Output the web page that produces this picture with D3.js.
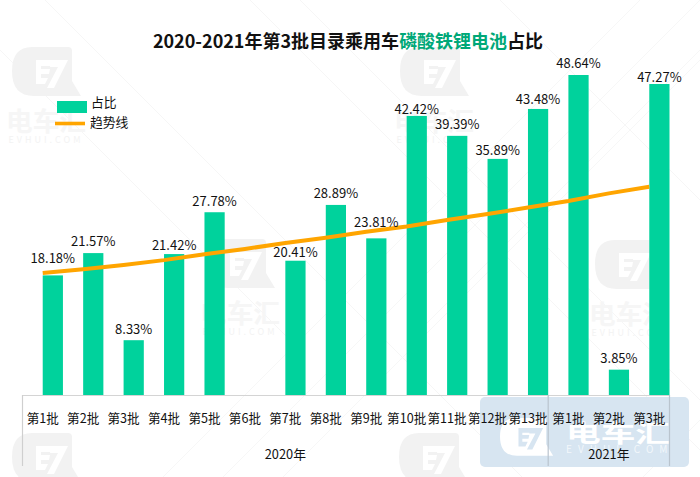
<!DOCTYPE html>
<html><head><meta charset="utf-8">
<script src="https://cdn.jsdelivr.net/npm/d3@7"></script>
<style>html,body{margin:0;padding:0;background:#fff}svg{display:block}text{font-family:"Noto Sans CJK SC","Noto Sans",sans-serif}</style>
</head><body><svg id="c" width="700" height="477"></svg>
<script>
const categories=["第1批","第2批","第3批","第4批","第5批","第6批","第7批","第8批","第9批","第10批","第11批","第12批","第13批","第1批","第2批","第3批"];
const shareValues=[18.18,21.57,8.33,21.42,27.78,null,20.41,28.89,23.81,42.42,39.39,35.89,43.48,48.64,3.85,47.27];
const trendValues=[18.54,19.1,19.76,20.5,21.4,22.2,23.1,23.9,24.8,25.6,26.6,27.5,28.5,29.5,30.65,31.65];
const yearGroups=[{name:"2020年",from:0,to:13},{name:"2021年",from:13,to:16}];
const labelGaps=[12,7,6,4,6,0,4,7,11,2,7,3.5,5,7,7,2.5];

const W=700,H=477,GREEN="#00D29C",ORANGE="#FFA500",AXIS="#d4d4d4";
const svg=d3.select("#c");
const idx=d3.range(categories.length);
const x=d3.scaleBand().domain(idx).range([22.5,669.5]).padding(0);
const sub=d3.scaleBand().domain(["_","占比"]).range([0,x.step()]);
const y=d3.scaleLinear().domain([0,48.64]).range([395,75]);
const cx=i=>x(i)+x.bandwidth()/2;

// watermark layer
const wm=svg.append("g");
[[45,160,600],[300,-80,720],[500,-200,900],[-50,330,420],[250,500,620]].forEach(([a,b,c])=>{
  wm.append("line").attr("x1",a).attr("y1",0).attr("x2",a+c*0.8).attr("y2",c*0.8).attr("stroke","#f6f6f6");
  wm.append("line").attr("x1",b+c).attr("y1",0).attr("x2",b+c-c*0.8).attr("y2",c*0.8).attr("stroke","#f7f7f7");
});
function logo(g,ox,oy,fill,cut,k){
  const n=g.append("g").attr("transform",`translate(${ox},${oy}) scale(${k})`);
  n.append("path").attr("d","M20,0H56Q60,0 60,4V34L69,49H22Q0,49 0,24Q0,0 20,0Z").attr("fill",fill);
  n.append("path").attr("d","M24,13H41L40,19H29V22H38L37,27H29V31H36L33,37H24Z").attr("fill",cut);
  n.append("path").attr("d","M39,13H56L42,41H35L46,20H38Z").attr("fill",cut);
  return n;
}
function mark(ox,oy,withText){
  logo(wm,ox,oy,"#f2f2f2","#fff",1);
  if(!withText) return;
  wm.append("text").attr("x",ox+34).attr("y",oy+84).attr("text-anchor","middle").attr("font-size",26).attr("font-weight",700).attr("fill","#f6f6f6").attr("textLength",80).attr("lengthAdjust","spacingAndGlyphs").text("电车汇");
  wm.append("text").attr("x",ox+34).attr("y",oy+96).attr("text-anchor","middle").attr("font-size",9).attr("fill","#f3f3f3").attr("letter-spacing",3).text("EVHUI.COM");
}
[[12,47,1],[400,47,1],[206,239,1],[595,240,1],[12,433,0],[399,433,0]].forEach(p=>mark(p[0],p[1],p[2]));
wm.append("rect").attr("x",480).attr("y",397).attr("width",209).attr("height",70).attr("rx",5).attr("fill","#d7e5f1");
logo(wm,500,418,"#fff","#d7e5f1",0.77);
wm.append("text").attr("x",618).attr("y",442).attr("text-anchor","middle").attr("font-size",24).attr("font-weight",700).attr("fill","#fff").attr("textLength",104).attr("lengthAdjust","spacingAndGlyphs").text("电车汇");
wm.append("text").attr("x",566).attr("y",453).attr("font-size",10).attr("fill","#f2f7fb").attr("letter-spacing",6).text("EVHUI.COM");

// title
const title=svg.append("text").attr("x",348).attr("y",48).attr("text-anchor","middle").attr("font-size",18).attr("font-weight",700).attr("fill","#111");
title.append("tspan").text("2020-2021年第3批目录乘用车");
title.append("tspan").attr("fill","#00A878").text("磷酸铁锂电池");
title.append("tspan").text("占比");

// bars
const data=idx.filter(i=>shareValues[i]!=null);
svg.append("g").selectAll("rect").data(data).join("rect")
  .attr("x",i=>x(i)+sub("占比")).attr("width",sub.bandwidth())
  .attr("y",i=>y(shareValues[i])).attr("height",i=>y(0)-y(shareValues[i]))
  .attr("fill",GREEN);

// axis
const ax=svg.append("g").attr("transform","translate(0,395)")
  .call(d3.axisBottom(x).tickSize(0).tickPadding(19).tickFormat(i=>categories[i]));
ax.select(".domain").attr("stroke",AXIS).attr("stroke-width",1.2);
ax.selectAll("text").attr("font-size",12.6).attr("fill","#111").attr("font-family",'"Noto Sans CJK SC"');
const seps=[...yearGroups.map(g=>g.from),yearGroups[yearGroups.length-1].to];
svg.append("g").selectAll("line").data(seps).join("line")
  .attr("x1",s=>s<categories.length?x(s):x(s-1)+x.step()).attr("x2",s=>s<categories.length?x(s):x(s-1)+x.step())
  .attr("y1",395).attr("y2",466).attr("stroke",s=>s===0?"#cfcfcf":"#b9c4ce").attr("stroke-width",1.2);
svg.append("g").selectAll("text").data(yearGroups).join("text")
  .attr("x",g=>(x(g.from)+x(g.to-1)+x.step())/2).attr("y",459).attr("text-anchor","middle")
  .attr("font-size",12.8).attr("fill","#111").text(g=>g.name);

// trend
svg.append("path").datum(idx).attr("fill","none").attr("stroke",ORANGE).attr("stroke-width",4)
  .attr("d",d3.line().x(cx).y(i=>y(trendValues[i])));

// value labels
svg.append("g").selectAll("text").data(data).join("text")
  .attr("x",i=>x(i)+sub("占比")+sub.bandwidth()/2)
  .attr("y",i=>y(shareValues[i])-labelGaps[i])
  .attr("text-anchor","middle").attr("font-size",13).attr("fill","#111")
  .text(i=>shareValues[i].toFixed(2)+"%");

// legend
const lg=svg.append("g");
lg.append("rect").attr("x",57).attr("y",101).attr("width",30).attr("height",12).attr("fill",GREEN);
lg.append("text").attr("x",91).attr("y",107).attr("font-size",12.8).attr("fill","#111").text("占比");
lg.append("line").attr("x1",55).attr("x2",85).attr("y1",123.5).attr("y2",123.5).attr("stroke",ORANGE).attr("stroke-width",3.6);
lg.append("text").attr("x",90).attr("y",127).attr("font-size",12.8).attr("fill","#111").text("趋势线");
</script></body></html>
